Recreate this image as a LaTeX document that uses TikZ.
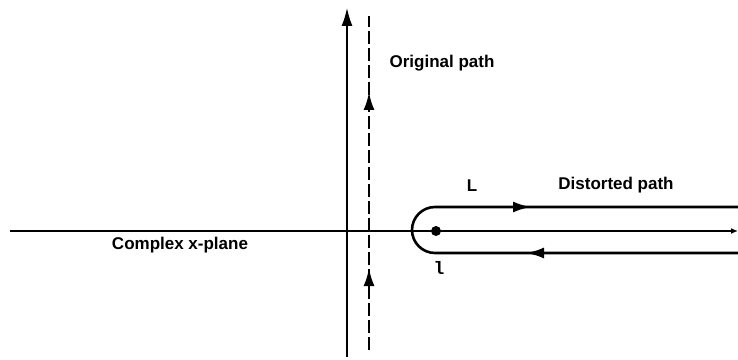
\documentclass[tikz,border=0pt]{standalone}
\usepackage{fontspec}
\setmainfont{Liberation Sans}
\newfontfamily\lblmono{Liberation Mono}
\usetikzlibrary{arrows.meta,positioning}

\begin{document}
\begin{tikzpicture}[x=1pt, y=1pt,
    every node/.style={font=\bfseries\fontsize{17}{18}\selectfont, inner sep=0pt},
    axisline/.style={line width=1.4pt},
    pathline/.style={line width=2.6pt},
    tipline/.style={-{Latex[length=18pt,width=11pt]}}]
  \useasboundingbox (0,0) rectangle (738,359);
  % axes of the x-plane
  \coordinate (xl) at (10,128);  \coordinate (xr) at (738,128);
  \coordinate (yb) at (347,2);   \coordinate (yt) at (347,351);
  \draw[axisline, -{Latex[length=7pt,width=6pt]}] (xl) -- (xr);
  \draw[axisline, tipline] (yb) -- (yt);
  % original path (dashed)
  \coordinate (ob) at (369,9);   \coordinate (ot) at (369,343);
  \coordinate (oa) at (369,91);  \coordinate (oc) at (369,267);
  \coordinate (oa0) at (369,80); \coordinate (oc0) at (369,256);
  \draw[pathline, dash pattern=on 13pt off 4pt] (ob) -- (ot);
  \draw[pathline, tipline] (oa0) -- (oa);
  \draw[pathline, tipline] (oc0) -- (oc);
  % distorted path round the pole
  \coordinate (ur) at (738,152); \coordinate (ul) at (435,152);
  \coordinate (lr) at (738,106); \coordinate (ll) at (435,106);
  \coordinate (ua) at (531,152); \coordinate (la) at (526,106);
  \coordinate (ua0) at (520,152); \coordinate (la0) at (537,106);
  \draw[pathline] (ur) -- (ul) arc[start angle=90, end angle=270, radius=23] -- (lr);
  \draw[pathline, tipline] (ua0) -- (ua);
  \draw[pathline, tipline] (la0) -- (la);
  \node[circle, fill, minimum size=10pt] (pole) at (436,128) {};
  % labels
  \node (orig) at (442,296) {Original path};
  \node (lup) at (472,173) {L};
  \node (dist) at (616,174) {Distorted path};
  \node (plane) at (180,114) {Complex x-plane};
  \node[font=\lblmono\bfseries\fontsize{18}{18}\selectfont] (llow) at (439,91) {l};
\end{tikzpicture}
\end{document}
